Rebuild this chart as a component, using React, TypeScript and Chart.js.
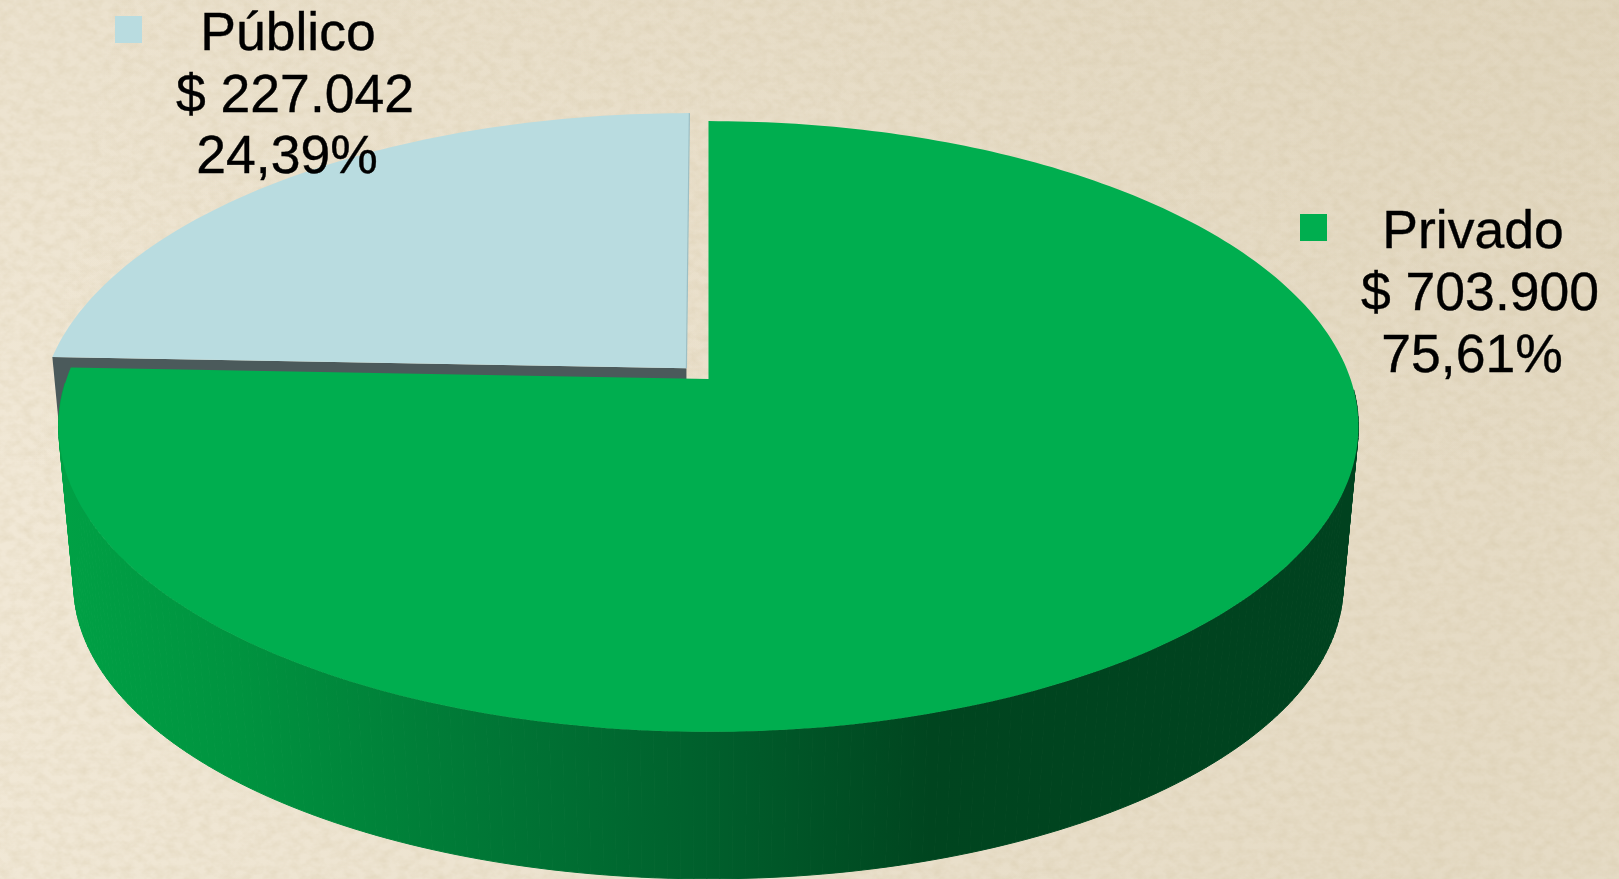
import React, { useEffect, useRef } from "react";
import { Chart, PieController, ArcElement, registerables } from "chart.js";

const categories = ["Privado", "Público"];
const values = [703900, 227042];
const amountLabels = ["$ 703.900", "$ 227.042"];
const percentLabels = ["75,61%", "24,39%"];
const topColors = ["#00ae4f", "#b9dce0"];
const sliceOffsets = [0, 36];

const W = 1619;
const H = 879;

// projection of the flat pie on to the tilted disc (top face and lower face)
const TILT = 0.1555;
const TOP_FACE = { a: 642, b: 298, dx: 0, dy: 0 };
const LOW_FACE = { a: 627, b: 287, dx: 0, dy: 160 };
const WALL_X0 = 58;
const WALL_X1 = 1360;
const WALL_STOPS: [number, string][] = [
  [0, "#00a145"],
  [0.14, "#00933f"],
  [0.34, "#007535"],
  [0.5, "#005f2c"],
  [0.67, "#00451f"],
  [1, "#00421f"],
];
const CUT_WALL_COLOR = "#4b5a5b";
const CUT_EDGE_COLOR = "#9dbfc4";

const LEGEND_LAYOUT = [
  { box: [1300, 214], cx: [1473, 1480, 1472], base: [248, 310, 372] },
  { box: [115, 16], cx: [288, 295, 287], base: [50, 112, 173] },
];

class Pie3DController extends PieController {
  static id = "pie3d";
  draw() {
    const ctx = (this as any).chart.ctx as CanvasRenderingContext2D;
    const arcs = (this as any)._cachedMeta.data as any[];
    const pt = (el: any, face: any, u: number, v: number) => {
      const off = (el.options.offset || 0) / 2 / el.outerRadius;
      const mid = (el.startAngle + el.endAngle) / 2;
      const uu = u + Math.cos(mid) * off;
      const vv = v + Math.sin(mid) * off;
      const w = 1 - TILT * vv;
      return [el.x + face.dx + (face.a * uu) / w, el.y + face.dy + (face.b * vv) / w];
    };
    const angles = (el: any) => {
      const ts: number[] = [];
      const n = Math.max(2, Math.ceil((el.endAngle - el.startAngle) / 0.0175));
      for (let i = 0; i <= n; i++) ts.push(el.startAngle + ((el.endAngle - el.startAngle) * i) / n);
      return ts;
    };
    const poly = (pts: number[][]) => {
      ctx.beginPath();
      pts.forEach((p, i) => (i ? ctx.lineTo(p[0], p[1]) : ctx.moveTo(p[0], p[1])));
      ctx.closePath();
    };
    const grad = ctx.createLinearGradient(WALL_X0, 0, WALL_X1, 0);
    WALL_STOPS.forEach(([s, c]) => grad.addColorStop(s, c));

    ctx.save();
    // walls: the far slice first, and only the part of the rim that faces the viewer
    for (let k = arcs.length - 1; k >= 0; k--) {
      const el = arcs[k];
      const ts = angles(el);
      const isFront = k === 0;
      ctx.fillStyle = isFront ? grad : CUT_WALL_COLOR;
      ctx.strokeStyle = isFront ? grad : CUT_WALL_COLOR;
      ctx.lineWidth = 1;
      if (isFront) {
        for (let i = 0; i < ts.length - 1; i++) {
          if (Math.sin(ts[i]) < 0.02) continue;
          const a = [Math.cos(ts[i]), Math.sin(ts[i])];
          const b = [Math.cos(ts[i + 1]), Math.sin(ts[i + 1])];
          poly([
            pt(el, TOP_FACE, a[0], a[1]),
            pt(el, TOP_FACE, b[0], b[1]),
            pt(el, LOW_FACE, b[0], b[1]),
            pt(el, LOW_FACE, a[0], a[1]),
          ]);
          ctx.fill();
          ctx.stroke();
        }
      } else {
        const c = [Math.cos(ts[0]), Math.sin(ts[0])];
        poly([
          pt(el, TOP_FACE, 0, 0),
          pt(el, TOP_FACE, c[0], c[1]),
          pt(el, LOW_FACE, c[0], c[1]),
          pt(el, LOW_FACE, 0, 0),
        ]);
        ctx.fill();
      }
    }
    // top faces
    for (let k = arcs.length - 1; k >= 0; k--) {
      const el = arcs[k];
      const apex = pt(el, TOP_FACE, 0, 0);
      const upper = angles(el).map((t) => pt(el, TOP_FACE, Math.cos(t), Math.sin(t)));
      poly([apex, ...upper]);
      ctx.fillStyle = el.options.backgroundColor;
      ctx.fill();
      if (k > 0) {
        ctx.strokeStyle = CUT_EDGE_COLOR;
        ctx.lineWidth = 1.2;
        ctx.beginPath();
        ctx.moveTo(apex[0], apex[1]);
        const last = upper[upper.length - 1];
        ctx.lineTo(last[0], last[1]);
        ctx.stroke();
      }
    }
    ctx.restore();
  }
}

const legendPlugin = {
  id: "sliceLegend",
  afterDraw(chart: any) {
    const ctx = chart.ctx as CanvasRenderingContext2D;
    ctx.save();
    ctx.font = '53.5px "Liberation Sans", Arial, sans-serif';
    ctx.textAlign = "center";
    ctx.textBaseline = "alphabetic";
    categories.forEach((name, i) => {
      const l = LEGEND_LAYOUT[i];
      ctx.fillStyle = topColors[i];
      ctx.fillRect(l.box[0], l.box[1], 27, 27);
      ctx.fillStyle = "#000000";
      ctx.strokeStyle = "#000000";
      ctx.lineWidth = 0.4;
      [name, amountLabels[i], percentLabels[i]].forEach((t, j) => {
        ctx.fillText(t, l.cx[j], l.base[j]);
        ctx.strokeText(t, l.cx[j], l.base[j]);
      });
    });
    ctx.restore();
  },
};

Chart.register(...registerables, ArcElement, Pie3DController as any);

const noise =
  "data:image/svg+xml;utf8," +
  encodeURIComponent(
    `<svg xmlns='http://www.w3.org/2000/svg' width='${W}' height='${H}'>
      <filter id='n' x='0' y='0' width='100%' height='100%'>
        <feTurbulence type='fractalNoise' baseFrequency='0.09 0.12' numOctaves='3' seed='7'/>
        <feColorMatrix values='0 0 0 0 0.5  0 0 0 0 0.4  0 0 0 0 0.2  0.3 0 0 0 -0.1'/>
      </filter>
      <rect width='100%' height='100%' filter='url(#n)'/>
    </svg>`
  );

export default function App() {
  const ref = useRef<HTMLCanvasElement | null>(null);
  useEffect(() => {
    document.body.style.margin = "0";
    const chart = new Chart(ref.current as HTMLCanvasElement, {
      type: "pie3d" as any,
      data: {
        labels: categories,
        datasets: [
          {
            data: values,
            backgroundColor: topColors,
            borderWidth: 0,
            offset: sliceOffsets,
          } as any,
        ],
      },
      options: {
        responsive: false,
        animation: false,
        events: [],
        layout: { padding: { right: 202, bottom: 121, left: 0, top: 0 } },
        plugins: { legend: { display: false }, tooltip: { enabled: false } },
      } as any,
      plugins: [legendPlugin],
    });
    return () => chart.destroy();
  }, []);
  return (
    <div
      style={{
        position: "fixed",
        left: 0,
        top: 0,
        width: W,
        height: H,
        overflow: "hidden",
        backgroundColor: "#f1e8d6",
        backgroundImage: `url("${noise}"), linear-gradient(100deg, rgba(150,130,80,0) 5%, rgba(150,130,80,0.13) 90%), linear-gradient(180deg, rgba(150,130,80,0.06) 0%, rgba(150,130,80,0) 55%)`,
      }}
    >
      <canvas ref={ref} width={W} height={H} style={{ display: "block" }} />
    </div>
  );
}
